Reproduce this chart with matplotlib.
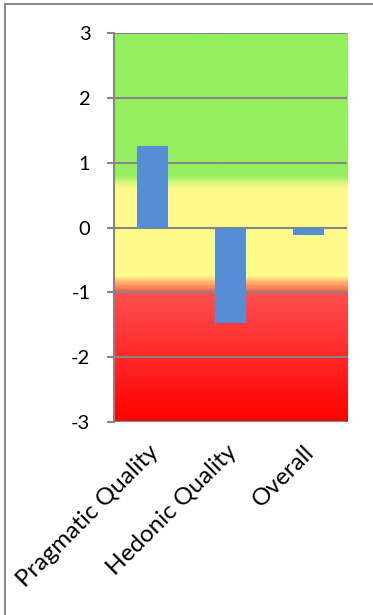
import numpy as np
import matplotlib
matplotlib.use("Agg")
from matplotlib import pyplot
from matplotlib.colors import LinearSegmentedColormap
from matplotlib.lines import Line2D
from matplotlib.transforms import ScaledTranslation

categories = ["Pragmatic Quality", "Hedonic Quality", "Overall"]
means = [1.25, -1.47, -0.11]
yticks = [-3, -2, -1, 0, 1, 2, 3]

# background bands: green above 0.8, yellow around neutral, red below -0.8
good_from = 0.8
bad_from = -0.8

pyplot.rcParams['font.family'] = ['Lato', 'DejaVu Sans']

fig = pyplot.figure(figsize=(3.73, 6.15), dpi=100)
ax = fig.add_axes([0.3056, 0.3138, 0.626, 0.6325])

# vertical colour ramp from -3 (bottom) to 3 (top)
stops = [
    (-3.0, "#ff0000"),
    (-1.0, "#ff5050"),
    (-0.95, "#ff7a50"),
    (bad_from - 0.05, "#ffb070"),
    (bad_from + 0.05, "#fffb8a"),
    (good_from - 0.2, "#fffb8a"),
    (good_from - 0.1, "#d4f77a"),
    (good_from, "#94ef5e"),
    (3.0, "#94ef5e"),
]
pos = [(v + 3) / 6 for v, _ in stops]
cmap = LinearSegmentedColormap.from_list("bands", list(zip(pos, [c for _, c in stops])))
grad = np.linspace(-3, 3, 600).reshape(-1, 1)
ax.imshow(grad, cmap=cmap, vmin=-3, vmax=3, aspect='auto',
          extent=[-0.5, 2.5, -3, 3], origin='lower', zorder=0)

x = np.arange(len(categories))
ax.bar(x, means, width=0.4, color="#558ed5", zorder=3)

ax.set_xlim(-0.5, 2.5)
ax.set_ylim(-3, 3)
ax.set_yticks(yticks)
ax.set_yticklabels([str(t) for t in yticks], fontsize=14.5)
for t in yticks:
    ax.axhline(t, color="#868686", lw=1.5, zorder=2)

ax.set_xticks(x)
ax.set_xticklabels(categories, rotation=45, ha='right', rotation_mode='anchor',
                   fontsize=17.5)
ax.tick_params(axis='x', length=0, pad=14)
ax.tick_params(axis='y', length=5, width=1.5, color="#868686", pad=12)
shift = ScaledTranslation(-5 / 100, 0, fig.dpi_scale_trans)
for lbl in ax.get_xticklabels():
    lbl.set_transform(lbl.get_transform() + shift)

for s in ['top', 'right', 'bottom']:
    ax.spines[s].set_visible(False)
ax.spines['left'].set_color("#868686")
ax.spines['left'].set_linewidth(1.5)

# outer frame lines
fig.add_artist(Line2D([0.0134, 1.0], [0.9935, 0.9935], color="#8c8c8c", lw=1.5,
                      transform=fig.transFigure))
fig.add_artist(Line2D([0.0134, 0.0134], [0.0, 0.9935], color="#8c8c8c", lw=1.5,
                      transform=fig.transFigure))

fig.savefig("out.png", dpi=100)
